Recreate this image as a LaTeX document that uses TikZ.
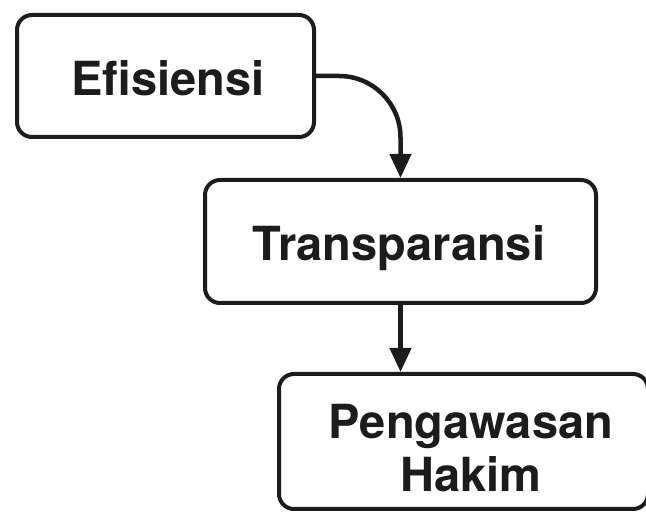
\documentclass[tikz,border=0pt]{standalone}
\usepackage{fontspec}
\setmainfont{TeX Gyre Heros}
\usetikzlibrary{arrows.meta}
\definecolor{ink}{HTML}{1C1C1C}
\tikzset{
  box/.style={draw=ink, line width=4pt, rounded corners=15pt, fill=white},
  lbl/.style={text=ink, font=\fontsize{47}{53}\selectfont\bfseries, text depth=0pt, inner sep=0pt},
  conn/.style={draw=ink, line width=4.5pt, -{Triangle[length=24pt,width=21pt]}}
}
\begin{document}
\begin{tikzpicture}[x=1pt,y=1pt]
\useasboundingbox (0,0) rectangle (646,517);
\node[box, minimum width=297pt, minimum height=122pt] (b1) at (165.5,441) {};
\node[lbl] (t1) at (168,439) {Efisiensi};
\node[box, minimum width=391pt, minimum height=123pt] (b2) at (400.5,275.5) {};
\node[lbl] (t2) at (399,274) {Transparansi};
\node[box, minimum width=369pt, minimum height=135pt] (b3) at (463.5,75.5) {};
\node[lbl, align=center] (t3) at (471,69) {Pengawasan\\Hakim};
\draw[conn] (b1.east) -- ++(23,0) arc[start angle=90, end angle=0, radius=61.5] -- (b2.north);
\draw[conn] (b2.south) -- (b2.south |- b3.north);
\end{tikzpicture}
\end{document}
